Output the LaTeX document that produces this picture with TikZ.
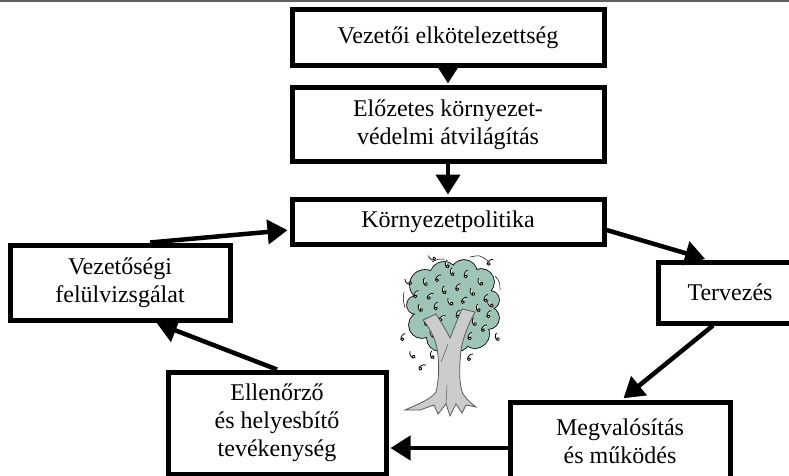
\documentclass[tikz,border=0pt]{standalone}
\usepackage{fontspec}
\setmainfont{Liberation Serif}
\usetikzlibrary{arrows.meta,calc}
\definecolor{leaf}{RGB}{157,196,181}
\definecolor{bark}{RGB}{204,204,204}
\definecolor{barkline}{RGB}{90,90,90}
\begin{document}
\begin{tikzpicture}[x=1pt,y=-1pt,
  box/.style={draw, line width=5pt, fill=white, align=center, inner sep=0pt,
    font=\fontsize{24}{28}\selectfont},
  flow/.style={line width=4.5pt, -{Triangle[length=20pt,width=24pt]}, shorten >=2pt},
  bill/.pic={
    \draw[line width=0.8pt, fill=white]
      (1,-4) .. controls (-1.5,-3) and (-2.2,1) .. (-1.2,3)
      .. controls (-0.2,4.6) and (2,3.6) .. (1.6,1.8)
      .. controls (1.2,0.4) and (-0.8,0.8) .. (-1,2.4);
  }]
\useasboundingbox (0,0) rectangle (789,476);
\clip (0,0) rectangle (789,476);

% rule at the top edge
\draw[gray!75!black, line width=2pt] (0,1) -- (789,1);

% process boxes
\node[box, minimum width=312, minimum height=56] (lead)   at (448,38)    {Vezetői elkötelezettség};
\node[box, minimum width=312, minimum height=73] (audit)  at (448,124.5) {Előzetes környezet-\\védelmi átvilágítás};
\node[box, minimum width=312, minimum height=45] (policy) at (448,221.5) {Környezetpolitika};
\node[box, minimum width=220, minimum height=75] (review) at (120,282.5) {Vezetőségi\\felülvizsgálat};
\node[box, minimum width=144, minimum height=61] (plan)   at (730,292.5) {Tervezés};
\node[box, minimum width=218, minimum height=102] (check) at (277,423)   {Ellenőrző\\és helyesbítő\\tevékenység};
\node[box, minimum width=220, minimum height=78] (doit)   at (620,441)   {Megvalósítás\\és működés};

% attachment points of the connectors
\coordinate (pe) at ($(policy.east)+(0,8.5)$);
\coordinate (pw) at ($(policy.west)+(0,8.5)$);
\coordinate (dw) at ($(doit.west)+(0,7)$);

% connectors
\draw[flow] (lead.south) -- (audit.north);
\draw[flow] (audit.south) -- (policy.north);
\draw[flow] (pe) -- ([xshift=-23]plan.north);
\draw[flow] ([xshift=-17]plan.south) -- ([xshift=2]doit.north);
\draw[flow] (dw) -- (dw -| check.east);
\draw[flow] (check.north) -- ([xshift=35]review.south);
\draw[flow] ([xshift=30]review.north) -- (pw);

% money tree: canopy as a union of round lobes
\foreach \cx/\cy/\rr in {425/285/15, 444/276/14, 464/273/13, 481/282/13,
    490/300/9, 488/318/11, 475/334/14, 458/340/11, 440/338/13, 422/325/13,
    416/305/9, 453/306/32}
  \draw[line width=1.6pt, fill=leaf] (\cx,\cy) circle (\rr);
\foreach \cx/\cy/\rr in {425/285/15, 444/276/14, 464/273/13, 481/282/13,
    490/300/9, 488/318/11, 475/334/14, 458/340/11, 440/338/13, 422/325/13,
    416/305/9, 453/306/32}
  \fill[leaf] (\cx,\cy) circle (\rr);
% motion strokes round the canopy
\draw[line width=0.5pt] (470,257) .. controls (480,255) .. (488,261);
\draw[line width=0.5pt] (495,276) .. controls (500,282) .. (500,290);
\draw[line width=0.5pt] (404,292) .. controls (403,300) .. (405,308);
\draw[line width=0.5pt] (432,262) .. controls (438,259) .. (445,259);
% notes in the canopy
\foreach \px/\py/\r in {
  425/282/20, 438/278/-30, 452/272/15, 466/274/-10, 480/282/35, 430/296/-40,
  444/290/10, 458/287/-25, 472/292/30, 486/298/-15, 420/308/25, 436/306/-10,
  450/302/40, 464/300/-35, 478/308/15, 489/314/-20, 426/322/10, 442/318/-45,
  474/322/20, 484/328/-30, 432/334/35, 470/336/-15, 459/342/25, 416/294/-20,
  447/264/10, 490/304/45, 458/314/-10}
  \pic[rotate=\r] at (\px,\py) {bill};
% notes falling off the tree
\foreach \px/\py/\r in {
  408/282/60, 403/337/-20, 412/355/40, 422/367/-50, 432/355/15,
  490/262/-40, 497/337/20, 470/357/-30, 432/258/70}
  \pic[rotate=\r] at (\px,\py) {bill};
% trunk and roots
\draw[line width=0.8pt, draw=barkline, fill=bark]
  (405,410) .. controls (418,404) and (430,400) .. (436,392)
  .. controls (440,375) and (439,356) .. (436,344)
  .. controls (433,334) and (428,326) .. (423,320)
  -- (436,314)
  .. controls (441,322) and (446,330) .. (450,338)
  .. controls (454,328) and (458,318) .. (462,309)
  -- (475,312)
  .. controls (468,325) and (463,338) .. (461,350)
  .. controls (459,368) and (459,385) .. (463,394)
  .. controls (467,400) and (472,404) .. (476,407)
  -- (466,405) -- (462,413) -- (456,404) -- (450,416) -- (446,404)
  -- (438,414) -- (434,405) -- (420,410) -- cycle;
\draw[line width=0.5pt, draw=barkline] (446,404) -- (447,385);
\draw[line width=0.5pt, draw=barkline] (441,362) .. controls (445,352) .. (448,344);
\end{tikzpicture}
\end{document}
